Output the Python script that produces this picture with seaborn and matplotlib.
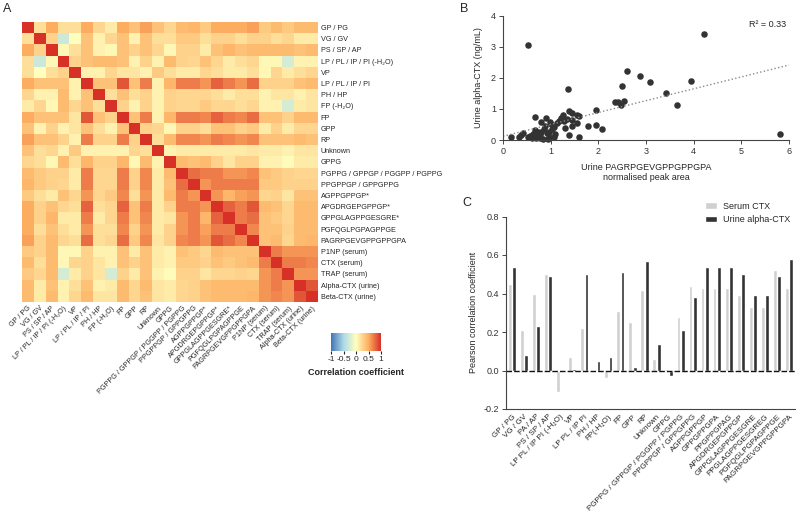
import numpy as np
import pandas as pd
import matplotlib
matplotlib.use("Agg")
import matplotlib.pyplot as plt
import seaborn as sns
from matplotlib.colors import LinearSegmentedColormap

sns.set_style("white")
plt.rcParams['font.family'] = ['Liberation Sans', 'DejaVu Sans']

# --- panel A: correlation matrix (lower triangle, mirrored below)
heat_labels = [
    "GP / PG", "VG / GV", "PS / SP / AP", "LP / PL / IP / PI (-H₂O)", "VP",
    "LP / PL / IP / PI", "PH / HP", "FP (-H₂O)", "FP", "GPP", "RP", "Unknown",
    "GPPG", "PGPPG / GPPGP / PGGPP / PGPPG", "PPGPPGP / GPPGPPG", "AGPPGPPGP*",
    "APGDRGEPGPPGP*", "GPPGLAGPPGESGRE*", "PGFQGLPGPAGPPGE", "PAGRPGEVGPPGPPGPA",
    "P1NP (serum)", "CTX (serum)", "TRAP (serum)", "Alpha-CTX (urine)", "Beta-CTX (urine)",
]
corr_lower = [
    [1],
    [.2, 1],
    [.5, .28, 1],
    [.2, -.3, .05, 1],
    [.2, 0, .2, .28, 1],
    [.5, .38, .38, .38, .08, 1],
    [.25, .08, .08, .42, .08, .38, 1],
    [.12, .25, .05, .42, .25, .38, .2, 1],
    [.5, .38, .38, .38, .16, .85, .38, .28, 1],
    [.38, .08, .28, .08, .16, .38, .2, .08, .38, 1],
    [.55, .38, .38, .28, .08, .7, .28, .28, .7, .28, 1],
    [.38, .2, .25, .08, .33, .08, .08, .08, .08, .25, .2, 1],
    [.25, .2, .05, .42, .2, .45, .28, .28, .45, .05, .42, .08, 1],
    [.42, .33, .28, .28, .12, .7, .25, .25, .7, .28, .65, .12, .42, 1],
    [.45, .33, .28, .25, .12, .7, .25, .25, .7, .28, .65, .12, .38, .75, 1],
    [.33, .2, .12, .38, .25, .6, .25, .33, .65, .2, .6, .12, .42, .7, .6, 1],
    [.5, .28, .38, .25, .2, .8, .2, .25, .8, .38, .7, .12, .28, .7, .7, .6, 1],
    [.5, .28, .45, .12, .12, .7, .12, .25, .7, .38, .65, .12, .16, .6, .7, .45, .8, 1],
    [.5, .2, .38, .2, .12, .6, .2, .2, .65, .28, .6, .12, .28, .6, .7, .55, .7, .7, 1],
    [.55, .28, .42, .25, .2, .75, .2, .25, .75, .33, .65, .16, .28, .65, .7, .6, .85, .75, .65, 1],
    [.33, .28, .42, .05, .05, .28, .08, .08, .38, .12, .38, .12, .08, .38, .33, .25, .42, .38, .38, .38, 1],
    [.42, .2, .42, .05, .25, .28, .16, .08, .38, .28, .38, .12, .08, .33, .33, .28, .38, .33, .38, .42, .7, 1],
    [.33, .25, .42, -.25, .12, .28, .16, -.25, .28, .12, .38, .08, .02, .28, .28, .16, .25, .25, .28, .25, .6, .7, 1],
    [.42, .12, .38, .08, .2, .38, .08, .12, .42, .25, .42, .16, .12, .25, .28, .38, .42, .42, .42, .42, .6, .7, .6, 1],
    [.42, .12, .42, .08, .25, .42, .16, .16, .42, .25, .38, .16, .12, .25, .28, .38, .42, .42, .42, .45, .6, .65, .6, .85, 1],
]

# --- panel B: scatter
peak_area = [0.52, 4.22, 5.82, 2.60, 2.87, 3.08, 3.95, 2.49, 3.42, 1.36, 3.65, 2.35,
             2.41, 2.53, 2.48, 1.95, 1.38, 1.45, 1.59, 1.56, 1.26, 0.68, 0.90, 0.99,
             0.80, 1.13, 1.27, 1.34, 1.45, 1.55, 1.79, 1.95, 2.08, 1.31, 1.45, 1.06,
             1.38, 1.59, 1.10, 0.97, 0.96, 0.84, 0.75, 0.68, 0.57, 0.52, 0.43, 0.38,
             0.34, 0.17, 0.64, 0.71, 0.77, 0.80, 0.85, 0.92, 1.03, 1.06, 0.60, 0.73,
             0.88, 1.00, 0.70, 0.62, 0.78, 0.95, 1.17, 1.22]
alpha_ctx = [3.05, 3.41, 0.18, 2.23, 2.05, 1.88, 1.90, 1.75, 1.52, 1.65, 1.13, 1.23,
             1.23, 1.25, 1.13, 0.97, 0.93, 0.88, 0.77, 0.82, 0.80, 0.73, 0.70, 0.59,
             0.59, 0.56, 0.62, 0.68, 0.64, 0.54, 0.46, 0.48, 0.36, 0.40, 0.46, 0.43,
             0.16, 0.11, 0.18, 0.27, 0.11, 0.02, 0.21, 0.32, 0.13, 0.11, 0.24, 0.16,
             0.09, 0.09, 0.16, 0.11, 0.08, 0.27, 0.35, 0.21, 0.34, 0.11, 0.07, 0.25,
             0.46, 0.50, 0.05, 0.20, 0.17, 0.04, 0.60, 0.72]

# --- panel C: bars
bar_labels = [
    "GP / PG", "VG / GV", "PA / AP", "PS / SP / AP", "LP PL / IP PI (-H₂O)", "VP",
    "LP PL / IP PI", "PH / HP", "FP(-H₂O)", "FP", "GPP", "RP", "Unknown", "GPPG",
    "PGPPG / GPPGP / PGGPP / PGPPG", "PPGPPGP / GPPGPPG", "AGPPGPPGP", "GPPGPPGPA",
    "PPGPPGPAG", "APGDRGEPGPPGP", "GPPGLAGPPGESGRE", "PPGLAGPPGESGREG",
    "PGFQGLPGPAGPPGE", "PAGRPGEVGPPGPPGPA",
]
serum_ctx = [0.45, 0.21, 0.40, 0.50, -0.11, 0.07, 0.22, -0.01, -0.04, 0.31, 0.25, 0.42,
             0.06, 0.01, 0.28, 0.44, 0.43, 0.43, 0.43, 0.39, 0.33, 0.33, 0.52, 0.43]
urine_actx = [0.54, 0.08, 0.23, 0.49, -0.005, 0.01, 0.50, 0.05, 0.07, 0.51, 0.02, 0.57,
              0.14, -0.03, 0.21, 0.38, 0.54, 0.54, 0.54, 0.50, 0.39, 0.39, 0.49, 0.58]

n = len(heat_labels)
corr = np.zeros((n, n))
for i, row in enumerate(corr_lower):
    corr[i, :len(row)] = row
corr = corr + corr.T - np.diag(np.diag(corr))
corr_df = pd.DataFrame(corr, index=heat_labels, columns=heat_labels)

fig = plt.figure(figsize=(8, 5.22), dpi=100)

# A
ax_a = fig.add_axes([22 / 800, 1 - 302 / 522, 296 / 800, 280 / 522])
cax = fig.add_axes([331 / 800, 1 - 351 / 522, 50 / 800, 18 / 522])
cmap = LinearSegmentedColormap.from_list(
    "corr", ["#4575b4", "#abd9e9", "#ffffbf", "#fdae61", "#d73027"])
sns.heatmap(corr_df, ax=ax_a, cmap=cmap, vmin=-1, vmax=1, cbar_ax=cax,
            xticklabels=heat_labels, yticklabels=heat_labels,
            cbar_kws={"orientation": "horizontal", "ticks": [-1, -0.5, 0, 0.5, 1]})
ax_a.yaxis.tick_right()
ax_a.set_yticklabels(heat_labels, rotation=0, fontsize=5.2)
ax_a.set_xticklabels(heat_labels, rotation=45, ha="right", rotation_mode="anchor", fontsize=5.2)
ax_a.tick_params(length=0, pad=2)
ax_a.set_xlabel("")
ax_a.set_ylabel("")
cb = ax_a.collections[0].colorbar
cb.outline.set_visible(False)
cax.set_xticklabels(["-1", "-0.5", "0", "0.5", "1"])
cax.tick_params(labelsize=6, length=2, pad=1.5)
cax.set_xlabel("Correlation coefficient", fontsize=6.5, fontweight="bold", labelpad=4)

# B
ax_b = fig.add_axes([503 / 800, 1 - 140 / 522, 286 / 800, 124.3 / 522])
ax_b.set_xlim(0, 6)
ax_b.set_ylim(0, 4)
sns.regplot(x=peak_area, y=alpha_ctx, ax=ax_b, ci=None, truncate=False,
            scatter_kws=dict(s=22, color="#333333", alpha=1, clip_on=False, linewidths=0),
            line_kws=dict(color="#8a8a8a", ls=":", lw=1))
ax_b.set_xlim(0, 6)
ax_b.set_ylim(0, 4)
ax_b.set_xticks(range(0, 7))
ax_b.set_yticks(range(0, 5))
for s in ["top", "right"]:
    ax_b.spines[s].set_visible(False)
for s in ["left", "bottom"]:
    ax_b.spines[s].set_color("#444444")
    ax_b.spines[s].set_linewidth(0.8)
ax_b.tick_params(labelsize=6.5, length=3, width=0.7, direction="out", pad=2,
                 bottom=True, left=True, colors="#444444", labelcolor="#333333")
ax_b.set_ylabel("Urine alpha-CTX (ng/mL)", fontsize=6.5, labelpad=6)
ax_b.set_xlabel("Urine PAGRPGEVGPPGPPGPA\nnormalised peak area", fontsize=6.5, labelpad=5)
ax_b.text(0.99, 0.93, "R² = 0.33", transform=ax_b.transAxes, ha="right", va="center", fontsize=6.5)

# C
ax_c = fig.add_axes([506 / 800, 1 - 409 / 522, 289 / 800, 192.5 / 522])
df_c = pd.DataFrame({
    "label": bar_labels * 2,
    "r": serum_ctx + urine_actx,
    "group": ["Serum CTX"] * len(bar_labels) + ["Urine alpha-CTX"] * len(bar_labels),
})
sns.barplot(data=df_c, x="label", y="r", hue="group", palette=["#d0d0d0", "#333333"],
            width=0.72, gap=0.12, ax=ax_c)
ax_c.set_ylim(-0.2, 0.8)
ax_c.set_yticks([-0.2, 0.0, 0.2, 0.4, 0.6, 0.8])
ax_c.set_yticklabels(["-0.2", "0.0", "0.2", "0.4", "0.6", "0.8"])
ax_c.axhline(0, color="#111111", lw=1, ls=(0, (4, 1.5)))
for s in ["top", "right"]:
    ax_c.spines[s].set_visible(False)
for s in ["left", "bottom"]:
    ax_c.spines[s].set_color("#444444")
    ax_c.spines[s].set_linewidth(0.8)
ax_c.set_xticks(range(len(bar_labels)))
ax_c.set_xticklabels(bar_labels, rotation=45, ha="right", rotation_mode="anchor", fontsize=5.8)
ax_c.tick_params(axis="y", labelsize=6.5, length=3, width=0.7, left=True, pad=2, colors="#444444",
                 labelcolor="#333333")
ax_c.tick_params(axis="x", length=0, pad=3)
ax_c.set_xlabel("")
ax_c.set_ylabel("Pearson correlation coefficient", fontsize=6.5, labelpad=4)
ax_c.legend(frameon=False, loc="upper right", bbox_to_anchor=(1.01, 1.12), fontsize=6.5,
            handlelength=1.3, handleheight=0.7, handletextpad=0.6, labelspacing=0.5)

fig.text(3 / 800, 1 - 3 / 522, "A", fontsize=9, va="top")
fig.text(460 / 800, 1 - 3 / 522, "B", fontsize=9, va="top")
fig.text(462 / 800, 1 - 197 / 522, "C", fontsize=9, va="top")

fig.savefig("out.png", dpi=100)
